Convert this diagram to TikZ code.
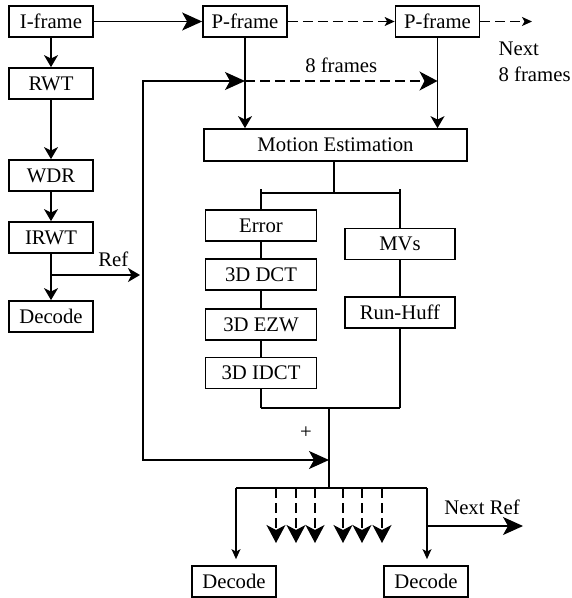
\documentclass[tikz,border=0pt]{standalone}
\usepackage{fontspec}
\setmainfont{Liberation Serif}
\usetikzlibrary{arrows.meta}

\begin{document}
\begin{tikzpicture}[x=0.02cm, y=-0.02cm, line width=0.7pt,
    blk/.style={draw, line width=1pt, inner sep=0pt, minimum width=1.68cm, minimum height=0.62cm},
    wideblk/.style={blk, minimum width=2.22cm},
    big/.tip={Stealth[length=0.4cm, width=0.36cm, inset=0.1cm]},
    mid/.tip={Stealth[length=0.36cm, width=0.38cm, inset=0.1cm]},
    small/.tip={Stealth[length=0.24cm, width=0.28cm, inset=0.07cm]},
    tiny/.tip={Stealth[length=0.2cm, width=0.18cm, inset=0.05cm]},
    dsh/.style={dash pattern=on 0.2cm off 0.1cm}]
    \tikzstyle{every node}=[font=\fontsize{11.8}{15}\selectfont]
    \useasboundingbox (0,0) rectangle (571,598);

    % left column
    \node[blk] (iframe) at (51,21.5) {I-frame};
    \node[blk] (rwt) at (51,83.5) {RWT};
    \node[blk] (wdr) at (51,175.5) {WDR};
    \node[blk] (irwt) at (51,237.5) {IRWT};
    \node[blk] (decl) at (51,316.5) {Decode};

    % frames and motion estimation
    \node[blk] (pf1) at (245,21.5) {P-frame};
    \node[blk] (pf2) at (437.5,21.5) {P-frame};
    \node[blk, minimum width=5.26cm, minimum height=0.64cm] (me) at (335.5,145) {Motion Estimation};

    % error path and MV path
    \node[wideblk] (err) at (261,225.5) {Error};
    \node[wideblk] (dct) at (261,274.5) {3D DCT};
    \node[wideblk] (ezw) at (261,324.5) {3D EZW};
    \node[wideblk] (idct) at (261,373) {3D IDCT};
    \node[wideblk, minimum width=2.2cm] (mvs) at (400,244) {MVs};
    \node[wideblk, minimum width=2.2cm] (rh) at (400,312.5) {Run-Huff};

    % decoders at the bottom
    \node[blk] (dec1) at (234,581.5) {Decode};
    \node[blk] (dec2) at (426,581.5) {Decode};

    \coordinate (nxt) at (532,21.5);
    \coordinate (lt) at (143,81);
    \coordinate (lb) at (143,460);
    \coordinate (sum) at (329,460);
    \coordinate (rf) at (51,275);
    \coordinate (refend) at (140,275);
    \coordinate (split) at (334,193);
    \coordinate (mrg) at (329,408);
    \coordinate (dist) at (329,488);
    \coordinate (bl) at (236,488);
    \coordinate (br) at (427,488);
    \coordinate (nr) at (427,526);
    \coordinate (nrend) at (523,526);

    \draw[-big] (iframe) -- (pf1);
    \draw[dsh,-tiny] (pf1) -- (pf2);
    \draw[dsh,-tiny] (pf2) -- (nxt);
    \node[align=left, anchor=north west, inner sep=0pt] (nxtlbl) at (498,41) {Next\\8 frames};

    \draw[-small] (iframe) -- (rwt);
    \draw[-small] (rwt) -- (wdr);
    \draw[-small] (wdr) -- (irwt);
    \draw[-small] (irwt) -- (decl);
    \draw[-small] (rf) -- (refend) node[pos=0.7, above=1pt] {Ref};

    \draw[-small] (pf1) -- (me.north -| pf1);
    \draw[-small] (pf2) -- (me.north -| pf2);
    \draw[big-big] (pf1 |- lt) -- (lt) -- (lb) -- (sum);
    \draw[dsh,-mid] (pf1 |- lt) -- (pf2 |- lt) node[midway, above=1pt] {8 frames};

    \draw (me.south -| split) -- (split);
    \draw (err.north |- split) -- (mvs.north |- split);
    \draw (err.north) -- (261,189);
    \draw (mvs.north) -- (400,189);
    \draw (err) -- (dct);
    \draw (dct) -- (ezw);
    \draw (ezw) -- (idct);
    \draw (idct) -- (idct |- mrg);
    \draw (mvs) -- (rh);
    \draw (rh) -- (rh |- mrg);
    \draw (idct |- mrg) -- (rh |- mrg);

    \draw (mrg) -- (dist);
    \node (plus) at (306,433) {+};
    \draw (bl) -- (br);
    \draw[-tiny, shorten >=0.12cm] (bl) -- (bl |- dec1.north);
    \draw[-tiny, shorten >=0.12cm] (br) -- (br |- dec2.north);
    \draw[-big] (nr) -- (nrend);
    \node (nrlbl) at (482,507) {Next Ref};
    \foreach \x in {276,296,315,343,362,382}
        \draw[dsh,-mid] (\x,488) -- (\x,543);
\end{tikzpicture}
\end{document}
